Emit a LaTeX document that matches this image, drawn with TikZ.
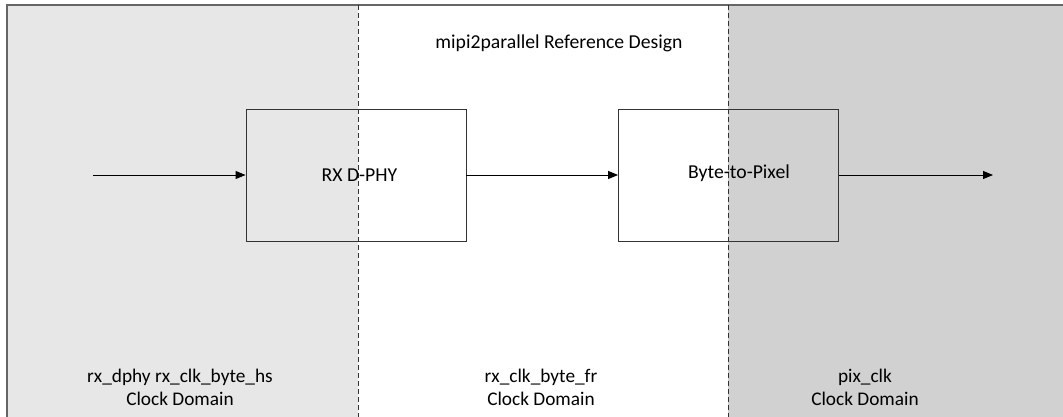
\documentclass[tikz,border=0pt]{standalone}
\usepackage{fontspec}
\setmainfont{Carlito}
\usetikzlibrary{arrows.meta}
\definecolor{leftgray}{HTML}{E7E7E7}
\definecolor{rightgray}{HTML}{D1D1D1}
\definecolor{framegray}{HTML}{666666}
\tikzset{
  blockbox/.style={draw=black!80, line width=0.9pt, minimum width=220pt, minimum height=132pt, inner sep=0pt},
  blocktext/.style={font=\fontsize{19.7}{22}\selectfont, inner sep=0pt},
  flow/.style={-{Triangle[length=10pt,width=8pt]}, line width=0.9pt, black},
  divider/.style={black!80, line width=0.8pt, dash pattern=on 5pt off 3pt},
  domtext/.style={font=\fontsize{19.3}{23}\selectfont, align=center, inner sep=0pt},
}
\begin{document}
\begin{tikzpicture}[x=1pt,y=-1pt]
\useasboundingbox (0,0) rectangle (1063,417);
% background regions
\fill[leftgray] (7,5) rectangle (358,417);
\fill[white] (358,5) rectangle (728,417);
\fill[rightgray] (728,5) rectangle (1063,417);
% outer frame
\draw[framegray, line width=1.6pt] (7,417) -- (7,5) -- (1063,5);
% dividers
\draw[divider] (358,5) -- (358,417);
\draw[divider] (728,5) -- (728,417);
% title
\node[blocktext] (title) at (559,43) {mipi2parallel Reference Design};
% blocks
\node[blockbox] (dphy) at (356,175) {};
\node[blocktext] (dphytext) at (359.5,175) {RX D-PHY};
\node[blockbox] (b2p) at (728.5,175) {};
\node[blocktext] (b2ptext) at (739,173) {Byte-to-Pixel};
% connectors
\coordinate (in) at (93,175);
\coordinate (out) at (993,175);
\draw[flow] (in) -- (dphy.west);
\draw[flow] (dphy.east) -- (b2p.west);
\draw[flow] (b2p.east) -- (out);
% domain labels
\node[domtext] (d1) at (180,387) {rx\_dphy rx\_clk\_byte\_hs\\Clock Domain};
\node[domtext] (d2) at (541,387) {rx\_clk\_byte\_fr\\Clock Domain};
\node[domtext] (d3) at (865,387) {pix\_clk\\Clock Domain};
\end{tikzpicture}
\end{document}
